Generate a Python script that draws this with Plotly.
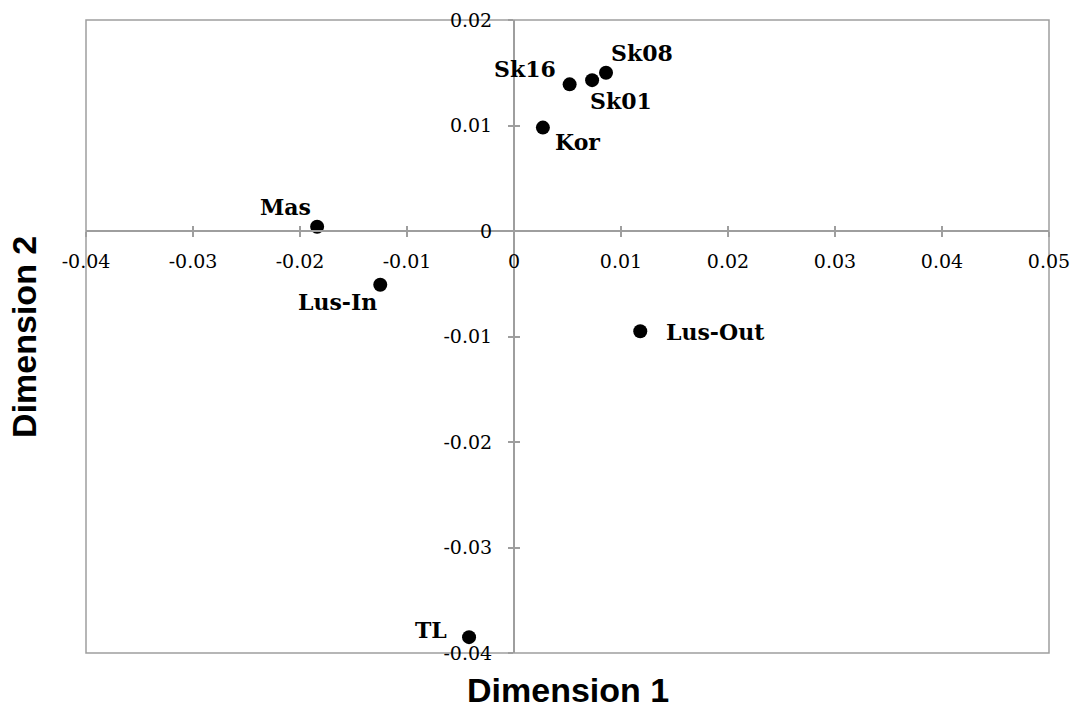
import plotly.graph_objects as go

# Data
names = ["Sk08", "Sk01", "Sk16", "Kor", "Mas", "Lus-In", "Lus-Out", "TL"]
dim1 = [0.0086, 0.0073, 0.0052, 0.0027, -0.0184, -0.0125, 0.0118, -0.0042]
dim2 = [0.0150, 0.0143, 0.0139, 0.0098, 0.0004, -0.0051, -0.0095, -0.0385]
x_ticks = [-0.04, -0.03, -0.02, -0.01, 0, 0.01, 0.02, 0.03, 0.04, 0.05]
x_tick_text = ["-0.04", "-0.03", "-0.02", "-0.01", "0", "0.01", "0.02", "0.03", "0.04", "0.05"]
y_ticks = [-0.04, -0.03, -0.02, -0.01, 0, 0.01, 0.02]
y_tick_text = ["-0.04", "-0.03", "-0.02", "-0.01", "0", "0.01", "0.02"]

# label placement (style): xanchor, xshift, yshift
label_pos = {
    "Sk08": ("left", 3, 20),
    "Sk01": ("left", -4, -21),
    "Sk16": ("right", -12, 15),
    "Kor": ("left", 10, -14),
    "Mas": ("right", -4, 20),
    "Lus-In": ("right", -1, -17),
    "Lus-Out": ("left", 24, -1),
    "TL": ("right", -20, 7),
}

XR = [-0.04, 0.05]
YR = [-0.04, 0.02]
xpos = (0 - XR[0]) / (XR[1] - XR[0])
ypos = (0 - YR[0]) / (YR[1] - YR[0])

AX = "#9e9e9e"
tick_font = dict(family="DejaVu Serif", size=19, color="#000000")

fig = go.Figure()
fig.add_trace(go.Scatter(x=dim1, y=dim2, mode="markers",
                         marker=dict(size=14, color="black"),
                         xaxis="x", yaxis="y", hoverinfo="skip", showlegend=False))
fig.add_trace(go.Scatter(x=[None], y=[None], mode="markers", xaxis="x2", yaxis="y2",
                         showlegend=False, hoverinfo="skip"))

for n, xv, yv in zip(names, dim1, dim2):
    xa, xs, ys = label_pos[n]
    fig.add_annotation(x=xv, y=yv, xref="x", yref="y", text=n, showarrow=False,
                       xanchor=xa, yanchor="middle", xshift=xs, yshift=ys,
                       font=dict(family="DejaVu Serif", size=22, color="black", weight="bold"))

fig.add_annotation(x=0.5, y=-0.058, xref="paper", yref="paper", text="<b>Dimension 1</b>",
                   showarrow=False, xanchor="center", yanchor="middle",
                   font=dict(family="Liberation Sans", size=34, color="black"))
fig.add_annotation(x=-0.065, y=0.5, xref="paper", yref="paper", text="<b>Dimension 2</b>",
                   showarrow=False, xanchor="center", yanchor="middle", textangle=-90,
                   font=dict(family="Liberation Sans", size=34, color="black"))

fig.add_shape(type="rect", xref="paper", yref="paper", x0=0, y0=0, x1=1, y1=1,
              line=dict(color=AX, width=1.5), layer="below")

common = dict(showgrid=False, zeroline=False, automargin=False)
fig.update_layout(
    width=1075, height=711,
    margin=dict(l=86, r=26, t=20, b=58),
    paper_bgcolor="white", plot_bgcolor="white",
    xaxis=dict(range=XR, anchor="free", position=ypos, showline=True, linecolor=AX, linewidth=2,
               ticks="outside", ticklen=5, tickwidth=1.5, tickcolor=AX,
               tickvals=x_ticks, ticktext=x_tick_text, tickfont=tick_font,
               ticklabelstandoff=8, **common),
    yaxis=dict(range=YR, anchor="free", position=xpos, showline=True, linecolor=AX, linewidth=2,
               ticks="outside", ticklen=5, tickwidth=1.5, tickcolor=AX,
               tickvals=y_ticks, ticktext=y_tick_text, tickfont=tick_font,
               ticklabelstandoff=12, **common),
    xaxis2=dict(range=XR, overlaying="x", anchor="free", position=ypos, showline=False,
                ticks="inside", ticklen=5, tickwidth=1.5, tickcolor=AX,
                tickvals=x_ticks, showticklabels=False, **common),
    yaxis2=dict(range=YR, overlaying="y", anchor="free", position=xpos, showline=False,
                ticks="inside", ticklen=5, tickwidth=1.5, tickcolor=AX,
                tickvals=y_ticks, showticklabels=False, **common),
)

fig.write_html("out.html")
